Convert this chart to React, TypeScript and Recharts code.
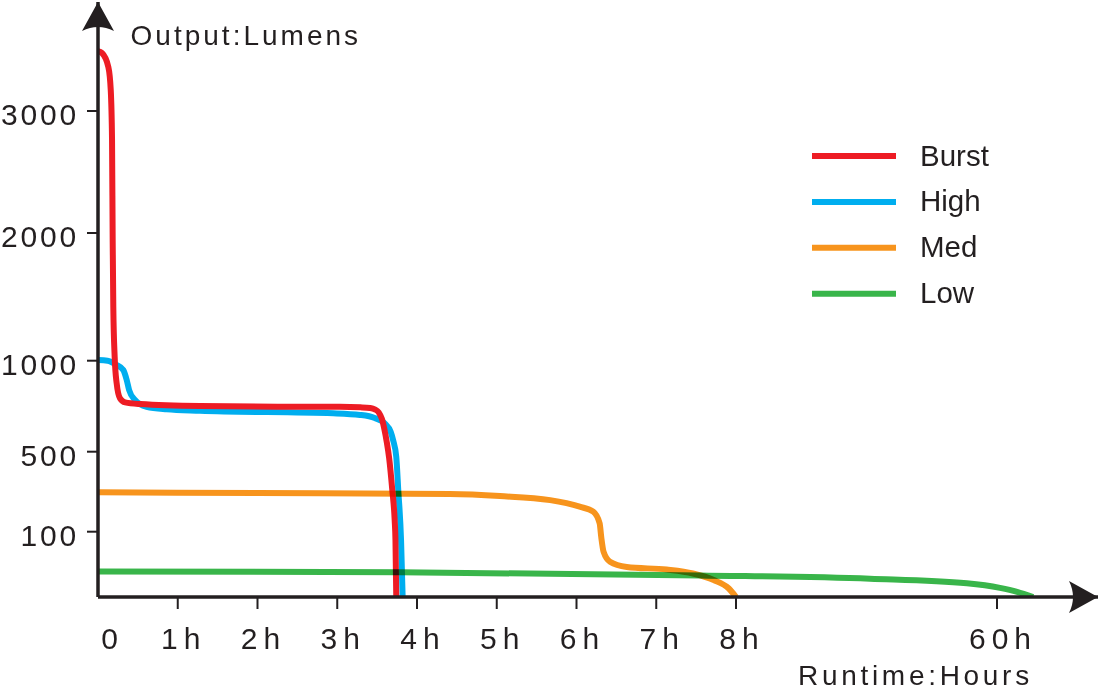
import React from 'react';
import { LineChart, Line, XAxis, YAxis, ReferenceDot, Legend } from 'recharts';

// Runtime curves (hours, lumens)
const burstHours = [0, 0.05, 0.13, 0.16, 0.176, 0.184, 0.192, 0.209, 0.234, 0.276, 0.34, 0.53, 1.28, 2.53, 3.03, 3.29, 3.41, 3.47, 3.52, 3.56, 3.59, 3.62, 3.65, 3.69, 3.72, 3.73, 3.74];
const burstLumens = [3490, 3475, 3360, 3170, 2760, 1945, 1420, 1030, 876, 793, 771, 762, 751, 747, 747, 744, 740, 733, 716, 680, 625, 555, 470, 308, 158, 87, 0];

const highHours = [0, 0.12, 0.234, 0.317, 0.36, 0.39, 0.464, 0.61, 0.86, 1.28, 2.95, 3.285, 3.47, 3.6, 3.67, 3.7, 3.74, 3.765, 3.8, 3.82];
const highLumens = [1005, 1000, 976, 949, 894, 839, 784, 747, 733, 725, 711, 702, 685, 653, 609, 564, 475, 308, 87, 0];

const medHours = [0, 2, 4.41, 5.04, 5.67, 6.04, 6.21, 6.29, 6.31, 6.34, 6.42, 6.63, 7.13, 7.46, 7.72, 7.91, 8.0];
const medLumens = [297, 293, 288, 278, 258, 225, 200, 142, 92, 69, 54, 46, 42, 36, 26, 13, 0];

const lowHours = [0, 3.79, 7.55, 34.7, 54.0, 60.6, 64.0, 67.2];
const lowLumens = [39, 38, 33, 28, 21, 14, 8, 0];

const seriesNames = ['Burst', 'High', 'Med', 'Low'];
const seriesColors = ['#ed1c24', '#00aeef', '#f7941d', '#39b54a'];

const xTickHours = [0, 1, 2, 3, 4, 5, 6, 7, 8, 60];
const xTickLabels = ['0', '1h', '2h', '3h', '4h', '5h', '6h', '7h', '8h', '60h'];
const yTickLumens = [100, 500, 1000, 2000, 3000];
const yTickLabels = ['100', '500', '1000', '2000', '3000'];

// both axes are broken (not linear), so values go through a piecewise map first
const Y_STOPS = [0, 100, 500, 1000, 2000, 3000];
const Y_SPAN = [0, 65.3, 145.3, 236.3, 364, 486];
const X_STOPS = [0, 8, 60];
const X_SPAN = [0, 638, 899];

const piecewise = (stops: number[], span: number[]) => (v: number) => {
  let i = 1;
  while (i < stops.length - 1 && v > stops[i]) i++;
  const t = (v - stops[i - 1]) / (stops[i] - stops[i - 1]);
  return span[i - 1] + t * (span[i] - span[i - 1]);
};
const toX = piecewise(X_STOPS, X_SPAN);
const toY = piecewise(Y_STOPS, Y_SPAN);

const build = (hours: number[], lumens: number[]) =>
  hours.map((h, i) => ({ x: toX(h), y: toY(lumens[i]) }));

const series = [
  build(burstHours, burstLumens),
  build(highHours, highLumens),
  build(medHours, medLumens),
  build(lowHours, lowLumens),
];

const X_MAX = 1000;
const Y_MAX = 595;
const INK = '#231f20';
const FONT = '"Liberation Sans", Arial, Helvetica, sans-serif';

const xTicks = xTickHours.map(toX);
const yTicks = yTickLumens.map(toY);

const XTick = ({ x, y, payload }: any) => {
  const i = xTicks.indexOf(payload.value);
  const isZero = xTickHours[i] === 0;
  return (
    <g>
      {!isZero && <line x1={x} x2={x} y1={y - 12} y2={y} stroke={INK} strokeWidth={2} />}
      <text
        x={x + (isZero ? 14.5 : 6)}
        y={y + 40}
        textAnchor="middle"
        fill={INK}
        fontSize={30}
        fontFamily={FONT}
        letterSpacing={6}
      >
        {xTickLabels[i]}
      </text>
    </g>
  );
};

const YTick = ({ x, y, payload }: any) => {
  const i = yTicks.indexOf(payload.value);
  return (
    <text x={x - 6} y={y + 14} textAnchor="end" fill={INK} fontSize={30} fontFamily={FONT} letterSpacing={2.8}>
      {yTickLabels[i]}
    </text>
  );
};

const YTitle = ({ viewBox }: any) => (
  <text x={viewBox.x + viewBox.width + 32.6} y={viewBox.y + 43} fill={INK} fontSize={28} fontFamily={FONT} letterSpacing={3}>
    Output:Lumens
  </text>
);

const XTitle = ({ viewBox }: any) => (
  <text x={viewBox.x + 700} y={viewBox.y + 87.5} fill={INK} fontSize={28} fontFamily={FONT} letterSpacing={3.7}>
    Runtime:Hours
  </text>
);

const UpArrow = ({ cx, cy }: any) => (
  <path d={`M${cx} ${cy} L${cx + 16} ${cy + 29} Q${cx} ${cy + 21} ${cx - 16} ${cy + 29} Z`} fill={INK} />
);

const RightArrow = ({ cx, cy }: any) => (
  <path d={`M${cx} ${cy} L${cx - 29} ${cy - 16} Q${cx - 21} ${cy} ${cx - 29} ${cy + 16} Z`} fill={INK} />
);

const LegendBox = () => (
  <svg width={210} height={190}>
    {seriesNames.map((name, i) => {
      const cy = 26 + i * 45.9;
      return (
        <g key={name}>
          <line x1={12} x2={96} y1={cy} y2={cy} stroke={seriesColors[i]} strokeWidth={6} />
          <text x={120} y={cy + 9.5} fill={INK} fontSize={29.5} fontFamily={FONT}>
            {name}
          </text>
        </g>
      );
    })}
  </svg>
);

// High is drawn under Burst, Med and Low multiply over the rest like the print
const drawOrder = [1, 0, 2, 3];

export default function App() {
  return (
    <div style={{ position: 'absolute', left: 0, top: 0, width: 1100, height: 688, background: '#fff' }}>
      <LineChart width={1100} height={688} margin={{ top: 2, right: 2, bottom: 0, left: 0 }}>
        <XAxis
          type="number"
          dataKey="x"
          domain={[0, X_MAX]}
          allowDataOverflow
          ticks={xTicks}
          interval={0}
          height={91}
          tickSize={12}
          tickMargin={0}
          tickLine={false}
          tick={<XTick />}
          axisLine={{ stroke: INK, strokeWidth: 3.5 }}
          label={<XTitle />}
        />
        <YAxis
          type="number"
          dataKey="y"
          domain={[0, Y_MAX]}
          allowDataOverflow
          ticks={yTicks}
          interval={0}
          width={98}
          tickSize={11}
          tickLine={{ stroke: INK, strokeWidth: 2 }}
          tick={<YTick />}
          axisLine={{ stroke: INK, strokeWidth: 3.5 }}
          label={<YTitle />}
        />
        {drawOrder.map((k) => (
          <Line
            key={seriesNames[k]}
            data={series[k]}
            dataKey="y"
            name={seriesNames[k]}
            type="monotone"
            stroke={seriesColors[k]}
            strokeWidth={6}
            dot={false}
            activeDot={false}
            isAnimationActive={false}
            style={k >= 2 ? { mixBlendMode: 'multiply' } : undefined}
          />
        ))}
        <ReferenceDot x={0} y={Y_MAX} r={0} ifOverflow="visible" shape={UpArrow} />
        <ReferenceDot x={X_MAX} y={0} r={0} ifOverflow="visible" shape={RightArrow} />
        <Legend
          layout="horizontal"
          align="center"
          verticalAlign="middle"
          content={<LegendBox />}
          wrapperStyle={{ left: 800, top: 130, width: 210, height: 190 }}
        />
      </LineChart>
    </div>
  );
}
